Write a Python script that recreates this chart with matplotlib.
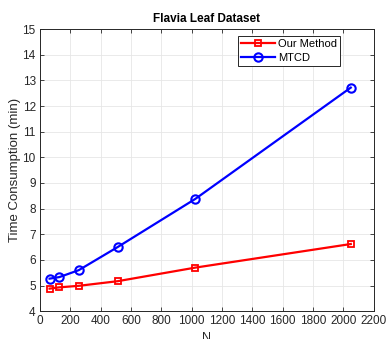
import matplotlib.pyplot as plt
import numpy as np

plt.rcParams["font.family"] = ["Liberation Sans", "DejaVu Sans"]

n_values = [64, 128, 256, 512, 1024, 2048]
our_method = [4.88, 4.93, 4.99, 5.17, 5.70, 6.62]
mtcd = [5.27, 5.33, 5.60, 6.50, 8.38, 12.72]

fig = plt.figure(figsize=(3.87, 3.39), dpi=100)
ax = fig.add_axes([0.103, 0.082, 0.863, 0.832])

ax.plot(n_values, our_method, color="red", linewidth=1.6, marker="s", markersize=5,
        markerfacecolor="none", markeredgewidth=1.3, label="Our Method")
ax.plot(n_values, mtcd, color="blue", linewidth=1.6, marker="o", markersize=6,
        markerfacecolor="none", markeredgewidth=1.5, label="MTCD")

ax.set_xlim(0, 2200)
ax.set_ylim(4, 15)
ax.set_xticks(np.arange(0, 2201, 200))
ax.set_yticks(np.arange(4, 16, 1))
ax.tick_params(direction="in", top=True, right=True, labelsize=8.5, length=3,
               colors="#262626", width=0.6, pad=3)
ax.grid(True, color="#e6e6e6", linewidth=0.6)
ax.set_axisbelow(True)
for s in ax.spines.values():
    s.set_color("#262626")
    s.set_linewidth(0.7)

ax.set_title("Flavia Leaf Dataset", fontsize=8.5, fontweight="bold", pad=5)
ax.set_xlabel("N", fontsize=9, color="#262626", labelpad=3)
ax.set_ylabel("Time Consumption (min)", fontsize=9.5, color="#262626", labelpad=1)

leg = ax.legend(loc="upper left", bbox_to_anchor=(0.593, 0.976), fontsize=8,
                fancybox=False, framealpha=1, edgecolor="#262626",
                handlelength=3.0, borderpad=0.3, labelspacing=0.3, handletextpad=0.3,
                borderaxespad=0)
leg.get_frame().set_linewidth(0.7)

fig.savefig("out.png", dpi=100)
